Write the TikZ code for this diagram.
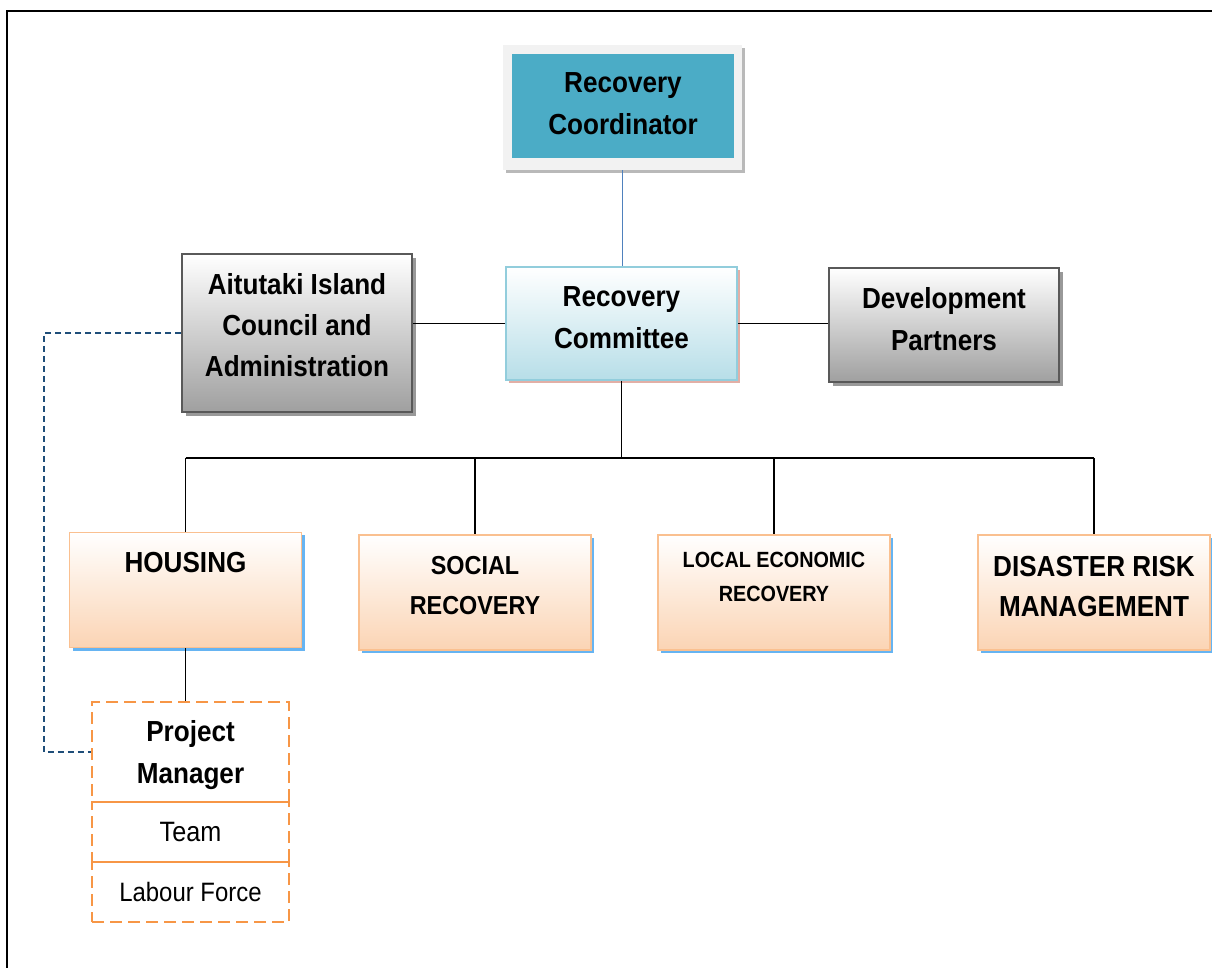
\documentclass[tikz,border=0pt]{standalone}
\usepackage{fontspec}
\setmainfont{Liberation Sans}[FakeStretch=0.9]
\usetikzlibrary{shadows, positioning}
\definecolor{coordteal}{HTML}{4BACC6}
\definecolor{framegrey}{HTML}{F2F2F2}
\definecolor{cttblue}{HTML}{B7DEE8}
\definecolor{cttedge}{HTML}{92CDDC}
\definecolor{cttshadow}{HTML}{E2AFA6}
\definecolor{peach}{HTML}{FBD4B4}
\definecolor{peachedge}{HTML}{FAC090}
\definecolor{skyshadow}{HTML}{66B4F2}
\definecolor{pmorange}{HTML}{F79646}
\definecolor{navy}{HTML}{1F4E79}
\definecolor{linkblue}{HTML}{4F81BD}
\tikzset{
	block/.style = {draw, rectangle, align=center, line width=0.9pt, font=\bfseries\fontsize{14.5}{21}\selectfont},
	framebox/.style = {rectangle, fill=framegrey, minimum width=119.5pt, minimum height=62.5pt,
		drop shadow={shadow xshift=1.5pt, shadow yshift=-1.5pt, fill=gray!55, opacity=1}},
	coordbox/.style = {block, draw=none, fill=coordteal, minimum width=111pt, minimum height=52pt},
	cttbox/.style = {block, draw=cttedge, top color=white, bottom color=cttblue, minimum width=115.5pt, minimum height=56.5pt,
		drop shadow={shadow xshift=1.5pt, shadow yshift=-1.5pt, fill=cttshadow, opacity=1}},
	greybox/.style = {block, draw=gray!70!black, top color=white, bottom color=gray!75, minimum width=115pt,
		drop shadow={shadow xshift=1.8pt, shadow yshift=-1.8pt, fill=gray!80, opacity=1}},
	streambox/.style = {block, draw=peachedge, top color=white, bottom color=peach, minimum width=116pt, minimum height=57.5pt,
		drop shadow={shadow xshift=1.5pt, shadow yshift=-1.5pt, fill=skyshadow, opacity=1}},
	teambox/.style = {draw=pmorange, rectangle, align=center, dash pattern=on 6pt off 3pt, line width=1.4pt,
		minimum width=98.5pt, font=\fontsize{14}{20}\selectfont},
	lift/.style = {text depth=#1},
	link/.style = {line width=0.8pt},
	dashlink/.style = {navy, line width=0.8pt, dash pattern=on 3pt off 2pt},
}

\begin{document}
\begin{tikzpicture}[x=0.5pt, y=-0.5pt]
			\useasboundingbox (0,0) rectangle (1212,968);
			
			% Page frame
			\draw[line width=1.1pt] (7,1000) -- (7,11) -- (1230,11);
			
			% Top of the chart
			\node[framebox] (coordframe) at (622.5,107.5) {};
			\node[coordbox, lift=2pt] (coord) at (623,106) {Recovery \\ Coordinator};
			\node[cttbox, lift=6pt] (committee) at (621.5,323.5) {Recovery \\ Committee};
			
			% Side boxes
			\node[greybox, minimum height=79pt, lift=8pt, font=\bfseries\fontsize{14.5}{20.5}\selectfont] (council) at (297,333) {Aitutaki Island \\ Council and \\ Administration};
			\node[greybox, minimum height=57pt, lift=6pt] (partners) at (944,325) {Development \\ Partners};
			
			% Recovery streams
			\node[streambox, lift=28pt] (housing) at (185.5,590) {HOUSING};
			\node[streambox, lift=7pt, font=\bfseries\fontsize{13}{20}\selectfont] (social) at (475,592.5) {SOCIAL \\ RECOVERY};
			\node[streambox, lift=15.5pt, font=\bfseries\fontsize{11}{17}\selectfont] (ler) at (774,592.5) {LOCAL ECONOMIC \\ RECOVERY};
			\node[streambox, lift=6pt, font=\bfseries\fontsize{14.5}{20}\selectfont] (drm) at (1094,592.5) {DISASTER RISK \\ MANAGEMENT};
			
			% Housing team
			\node[teambox, minimum height=50pt, lift=0pt, font=\bfseries\fontsize{14.5}{21}\selectfont] (pm) at (190.5,752) {Project \\ Manager};
			\node[teambox, minimum height=30pt] (team) at (190.5,832) {Team};
			\node[teambox, minimum height=30pt, font=\fontsize{13.3}{18}\selectfont] (labour) at (190.5,892) {Labour Force};
			
			\coordinate (bus) at (621.5,458);
			\coordinate (elbow) at (44,752);
			
			% Connections
			\draw[linkblue, line width=0.6pt] (coordframe.south) -- (coordframe.south |- committee.north);
			\draw[link] (committee.west) -- (committee.west -| council.east);
			\draw[link] (committee.east) -- (committee.east -| partners.west);
			\draw[link] (committee.south) -- (bus);
			\draw[link] (housing.north |- bus) -- (drm.north |- bus);
			\draw[link] (housing.north |- bus) -- (housing.north);
			\draw[link] (social.north |- bus) -- (social.north);
			\draw[link] (ler.north |- bus) -- (ler.north);
			\draw[link] (drm.north |- bus) -- (drm.north);
			\draw[link] (housing.south) -- (housing.south |- pm.north);
			
			% Council link to project manager
			\draw[dashlink] (council.west) -| (elbow) -- (pm.west);
			
		\end{tikzpicture}
\end{document}
